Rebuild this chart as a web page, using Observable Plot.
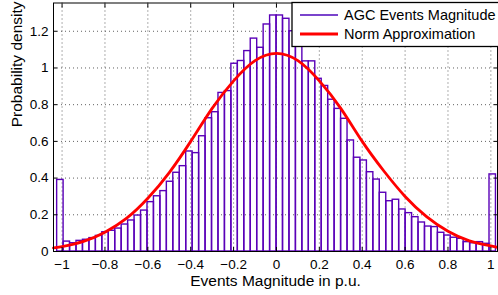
<!DOCTYPE html>
<html><head><meta charset="utf-8">
<script src="https://cdn.jsdelivr.net/npm/d3@7"></script>
<script src="https://cdn.jsdelivr.net/npm/@observablehq/plot@0.6"></script>
<style>html,body{margin:0;padding:0;background:#fff;} #chart{width:498px;height:295px;overflow:hidden;position:relative}</style>
</head><body><div id="chart"></div>
<script>
// Histogram bins (p.u.)
const binStart = -1.023;
const binWidth = 0.0301;
const binHeights = [
 0.39, 0.054, 0.045, 0.058, 0.064, 0.073, 0.085, 0.105, 0.113, 0.125,
 0.147, 0.169, 0.196, 0.223, 0.269, 0.301, 0.329, 0.380, 0.429, 0.465,
 0.545, 0.536, 0.628, 0.726, 0.759, 0.864, 0.874, 1.023, 1.038, 1.092,
 1.160, 1.110, 1.237, 1.286, 1.286, 1.268, 1.20, 1.15, 1.036, 1.036,
 0.941, 0.902, 0.827, 0.777, 0.723, 0.605, 0.511, 0.496, 0.432, 0.392,
 0.320, 0.274, 0.282, 0.229, 0.209, 0.187, 0.158, 0.136, 0.133, 0.102,
 0.087, 0.075, 0.069, 0.051, 0.045, 0.051, 0.042, 0.42
];
// Norm approximation curve
const curveX = [-1.04, -1.0, -0.9, -0.8, -0.7, -0.6, -0.5, -0.4, -0.3, -0.2, -0.1, 0, 0.1, 0.2, 0.3, 0.4, 0.5, 0.6, 0.7, 0.8, 0.9, 1.0, 1.031];
const curveY = [0.020, 0.027, 0.055, 0.105, 0.18, 0.29, 0.43, 0.60, 0.78, 0.93, 1.04, 1.08, 1.04, 0.93, 0.78, 0.60, 0.44, 0.30, 0.19, 0.11, 0.058, 0.03, 0.023];
const xTicks = [-1, -0.8, -0.6, -0.4, -0.2, 0, 0.2, 0.4, 0.6, 0.8, 1];
const xTickLabels = ["−1", "−0.8", "−0.6", "−0.4", "−0.2", "0", "0.2", "0.4", "0.6", "0.8", "1"];
const yTicks = [0, 0.2, 0.4, 0.6, 0.8, 1, 1.2];
const yTickLabels = ["0", "0.2", "0.4", "0.6", "0.8", "1", "1.2"];
const seriesNames = ["AGC Events Magnitude", "Norm Approximation"];
const xLabel = "Events Magnitude in p.u.";
const yLabel = "Probability density";

const bins = binHeights.map((h, i) => ({x1: binStart + i * binWidth, x2: binStart + (i + 1) * binWidth, h}));
const curve = curveX.map((x, i) => ({x, y: curveY[i]}));

const gridStyle = {stroke: "#444", strokeOpacity: 0.85, strokeDasharray: "1,3"};
const plot = Plot.plot({
  width: 498, height: 295,
  marginTop: 2.5, marginBottom: 44, marginLeft: 53, marginRight: 1,
  style: {fontFamily: "'Liberation Sans', Arial, sans-serif", fontSize: "13px", background: "white", color: "black"},
  x: {domain: [-1.040, 1.031]},
  y: {domain: [0, 1.354]},
  marks: [
    Plot.gridX(xTicks, gridStyle),
    Plot.gridY(yTicks, gridStyle),
    Plot.rect(bins, {x1: "x1", x2: "x2", y1: 0, y2: "h", fill: "none", stroke: "#5a00b8", strokeWidth: 1.4}),
    Plot.line(curve, {x: "x", y: "y", stroke: "#ff0000", strokeWidth: 2.8, curve: "natural"}),
    Plot.axisX(xTicks, {anchor: "bottom", tickSize: -4, fill: "none", label: null}),
    Plot.axisX(xTicks, {anchor: "top", tickSize: -4, fill: "none", label: null}),
    Plot.axisY(yTicks, {anchor: "left", tickSize: -4, fill: "none", label: null}),
    Plot.axisY(yTicks, {anchor: "right", tickSize: -4, fill: "none", label: null}),
    Plot.axisX(xTicks, {anchor: "bottom", tickSize: 0, tickPadding: 8, fontSize: 13.5, tickFormat: d => xTickLabels[xTicks.indexOf(d)], label: null}),
    Plot.axisY(yTicks, {anchor: "left", tickSize: 0, tickPadding: 5, fontSize: 13.5, tickFormat: d => yTickLabels[yTicks.indexOf(d)], label: null}),
    Plot.frame({stroke: "black", strokeWidth: 1}),
    Plot.text([xLabel], {frameAnchor: "bottom", lineAnchor: "top", dy: 23, fontSize: 15.5, fill: "black"}),
    Plot.text([yLabel], {frameAnchor: "left", rotate: -90, lineAnchor: "top", dx: -42.5, fontSize: 15.5, fill: "black"})
  ]
});

// Legend box (top-right)
const svg = d3.select(plot);
const lg = svg.append("g")
  .attr("font-family", "'Liberation Sans', Arial, sans-serif")
  .attr("font-size", 14.5)
  .attr("text-anchor", "start");
lg.append("rect").attr("x", 292).attr("y", 2.5).attr("width", 220).attr("height", 44)
  .attr("fill", "white").style("fill", "white").attr("stroke", "black").attr("stroke-width", 1.3);
const legendColors = ["#7a44cc", "#ff0000"];
const legendWidths = [2, 3];
const legendY = [15, 34];
seriesNames.forEach((name, i) => {
  lg.append("line").attr("x1", 300).attr("x2", 338).attr("y1", legendY[i]).attr("y2", legendY[i])
    .attr("stroke", legendColors[i]).attr("stroke-width", legendWidths[i]);
  lg.append("text").attr("x", 344).attr("y", legendY[i] + 5).attr("fill", "black")
    .style("text-anchor", "start").text(name);
});
document.getElementById("chart").append(plot);
</script>
</body></html>
